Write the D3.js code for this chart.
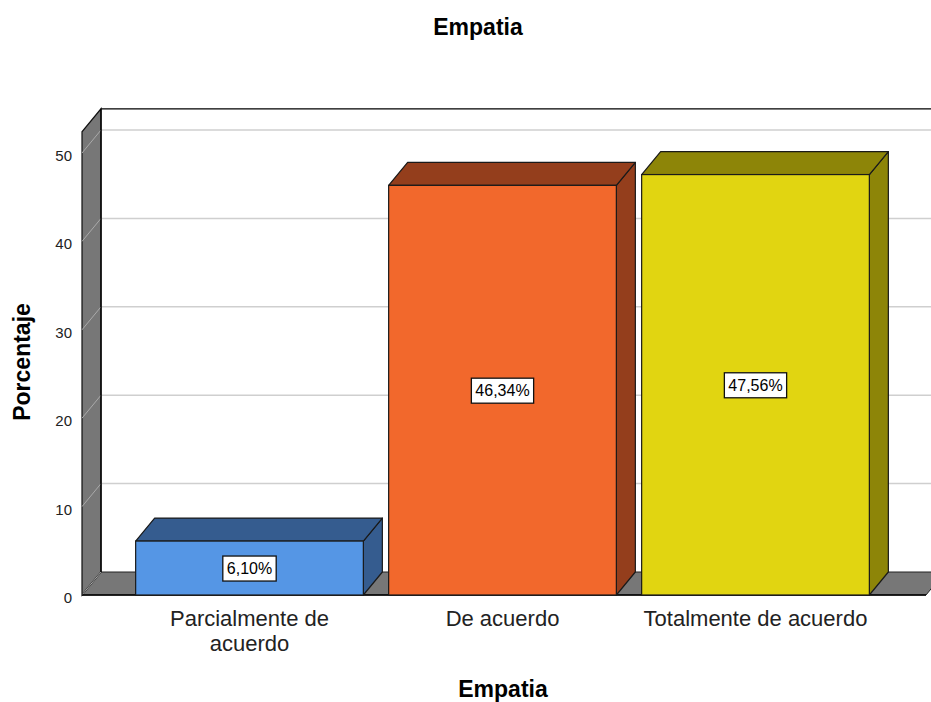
<!DOCTYPE html>
<html>
<head>
<meta charset="utf-8">
<script src="https://cdn.jsdelivr.net/npm/d3@7"></script>
<style>
  body { margin: 0; background: #fff; }
  text { font-family: "Liberation Sans", Arial, sans-serif; }
</style>
</head>
<body>
<svg id="drawing_region"></svg>
<script>
const categories = ["Parcialmente de acuerdo", "De acuerdo", "Totalmente de acuerdo"];
const categoryLines = [["Parcialmente de", "acuerdo"], ["De acuerdo"], ["Totalmente de acuerdo"]];
const percents = [6.10, 46.34, 47.56];
const valueLabels = ["6,10%", "46,34%", "47,56%"];
const yTicks = [0, 10, 20, 30, 40, 50];
const frontColors = ["#5596e5", "#f2682c", "#e1d511"];
const darkColors = ["#355c8f", "#943e1c", "#8d8508"];

const config = {
    width: 931,
    height: 702,
    depth: {dx: 19, dy: -23}
};

const svg = d3.select('#drawing_region')
    .attr('width', config.width)
    .attr('height', config.height);

const dx = config.depth.dx, dy = config.depth.dy;

const xscale = d3.scaleBand()
    .domain(categories)
    .range([123, 882])
    .paddingInner(0.1)
    .paddingOuter(0.05);

const yscale = d3.scaleLinear()
    .domain([0, 50])
    .range([595, 153]);

const y0 = yscale(0);
const yTop = yscale(52.4);
const xLeft = 82;
const xRight = 926;

// back wall gridlines
svg.append('g').selectAll('line')
    .data(yTicks.slice(1))
    .enter()
    .append('line')
    .attr('x1', xLeft + dx).attr('x2', config.width)
    .attr('y1', d => yscale(d) + dy).attr('y2', d => yscale(d) + dy)
    .attr('stroke', '#cfcfcf').attr('stroke-width', 1.5);

// top border of back wall
svg.append('line')
    .attr('x1', xLeft + dx).attr('x2', config.width)
    .attr('y1', yTop + dy).attr('y2', yTop + dy)
    .attr('stroke', '#000').attr('stroke-width', 1.3);

// floor
svg.append('path')
    .attr('d', `M${xLeft},${y0} L${xLeft + dx},${y0 + dy} L${xRight + dx},${y0 + dy} L${xRight},${y0} Z`)
    .attr('fill', '#777').attr('stroke', '#222').attr('stroke-width', 1);

// left wall
svg.append('path')
    .attr('d', `M${xLeft},${y0} L${xLeft},${yTop} L${xLeft + dx},${yTop + dy} L${xLeft + dx},${y0 + dy} Z`)
    .attr('fill', '#777').attr('stroke', '#111').attr('stroke-width', 1.2);

// slanted gridlines on left wall
svg.append('g').selectAll('line')
    .data(yTicks)
    .enter()
    .append('line')
    .attr('x1', xLeft).attr('x2', xLeft + dx)
    .attr('y1', d => yscale(d)).attr('y2', d => yscale(d) + dy)
    .attr('stroke', '#aaa').attr('stroke-width', 1);

// back wall left edge
svg.append('line')
    .attr('x1', xLeft + dx).attr('x2', xLeft + dx)
    .attr('y1', yTop + dy).attr('y2', y0 + dy)
    .attr('stroke', '#000').attr('stroke-width', 1.3);

// front edges
svg.append('line')
    .attr('x1', xLeft).attr('x2', xRight)
    .attr('y1', y0).attr('y2', y0)
    .attr('stroke', '#000').attr('stroke-width', 1.3);

// y tick labels
svg.append('g').selectAll('text')
    .data(yTicks)
    .enter()
    .append('text')
    .attr('x', 72)
    .attr('y', d => yscale(d) + 8)
    .attr('text-anchor', 'end')
    .attr('font-size', '15px')
    .attr('fill', '#222')
    .text(d => d);

// bars
const bars = svg.append('g').selectAll('g')
    .data(percents)
    .enter()
    .append('g');

bars.each(function(d, i) {
    const g = d3.select(this);
    const x1 = xscale(categories[i]);
    const x2 = x1 + xscale.bandwidth();
    const yt = yscale(d);
    // side face
    g.append('path')
        .attr('d', `M${x2},${y0} L${x2},${yt} L${x2 + dx},${yt + dy} L${x2 + dx},${y0 + dy} Z`)
        .attr('fill', darkColors[i]).attr('stroke', '#1a1a1a').attr('stroke-width', 1.2)
        .attr('stroke-linejoin', 'round');
    // top face
    g.append('path')
        .attr('d', `M${x1},${yt} L${x1 + dx},${yt + dy} L${x2 + dx},${yt + dy} L${x2},${yt} Z`)
        .attr('fill', darkColors[i]).attr('stroke', '#1a1a1a').attr('stroke-width', 1.2)
        .attr('stroke-linejoin', 'round');
    // front face
    g.append('rect')
        .attr('x', x1).attr('y', yt)
        .attr('width', x2 - x1).attr('height', y0 - yt)
        .attr('fill', frontColors[i]).attr('stroke', '#1a1a1a').attr('stroke-width', 1.2);
});

// value labels
bars.each(function(d, i) {
    const g = d3.select(this);
    const cx = xscale(categories[i]) + xscale.bandwidth() / 2;
    const cy = (yscale(d) + y0) / 2;
    const t = g.append('text')
        .attr('x', cx).attr('y', cy + 6)
        .attr('text-anchor', 'middle')
        .attr('font-size', '16px')
        .attr('fill', '#000')
        .text(valueLabels[i]);
    const w = t.node().getComputedTextLength();
    g.insert('rect', 'text')
        .attr('x', cx - w / 2 - 4).attr('y', cy - 12)
        .attr('width', w + 8).attr('height', 25)
        .attr('fill', '#fff').attr('stroke', '#111').attr('stroke-width', 1.3);
});

// category labels
const catGroup = svg.append('g');
categoryLines.forEach((lines, i) => {
    const cx = xscale(categories[i]) + xscale.bandwidth() / 2;
    lines.forEach((ln, j) => {
        catGroup.append('text')
            .attr('x', cx)
            .attr('y', 626 + j * 25)
            .attr('text-anchor', 'middle')
            .attr('font-size', '22px')
            .attr('fill', '#222')
            .text(ln);
    });
});

// titles
svg.append('text')
    .attr('x', 478).attr('y', 35)
    .attr('text-anchor', 'middle')
    .attr('font-size', '23px').attr('font-weight', 'bold')
    .text('Empatia');

svg.append('text')
    .attr('x', 503).attr('y', 697)
    .attr('text-anchor', 'middle')
    .attr('font-size', '23px').attr('font-weight', 'bold')
    .text('Empatia');

svg.append('text')
    .attr('transform', 'translate(30, 362) rotate(-90)')
    .attr('text-anchor', 'middle')
    .attr('font-size', '23px').attr('font-weight', 'bold')
    .text('Porcentaje');
</script>
</body>
</html>
